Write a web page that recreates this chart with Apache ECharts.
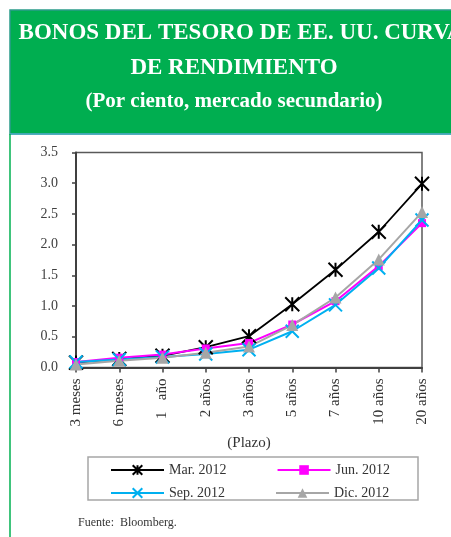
<!DOCTYPE html>
<html>
<head>
<meta charset="utf-8">
<script src="https://cdn.jsdelivr.net/npm/echarts@6/dist/echarts.min.js"></script>
<style>
  html, body { margin: 0; padding: 0; background: #fff; }
  #chart { width: 451px; height: 537px; }
</style>
</head>
<body>
<div id="chart"></div>
<script>
// plazos (eje x)
const plazos = ['3 meses', '6 meses', '1   año', '2 años', '3 años', '5 años', '7 años', '10 años', '20 años']
// rendimientos por fecha
const mar2012 = [0.08, 0.14, 0.19, 0.33, 0.51, 1.03, 1.59, 2.21, 2.99]
const jun2012 = [0.09, 0.16, 0.21, 0.31, 0.40, 0.70, 1.08, 1.65, 2.35]
const sep2012 = [0.09, 0.13, 0.17, 0.22, 0.29, 0.59, 1.02, 1.62, 2.40]
const dic2012 = [0.05, 0.11, 0.16, 0.24, 0.34, 0.69, 1.14, 1.76, 2.53]
const yTicks = ['0.0', '0.5', '1.0', '1.5', '2.0', '2.5', '3.0', '3.5']

const serif = '"Liberation Serif", "DejaVu Serif", serif'
const textColor = '#333'

const chart = echarts.init(document.getElementById('chart'))

const legendText = { fontFamily: serif, fontSize: 14, color: textColor }

const option = {
  animation: false,
  textStyle: { fontFamily: serif },
  graphic: [
    // cabecera verde
    { type: 'rect', shape: { x: 10, y: 10, width: 450, height: 124 },
      style: { fill: '#00AE50', stroke: '#2B9C8A', lineWidth: 1.5 } },
    { type: 'line', shape: { x1: 10, y1: 134, x2: 451, y2: 134 },
      style: { stroke: '#4BACC6', lineWidth: 1.5 } },
    { type: 'line', shape: { x1: 10, y1: 134, x2: 10, y2: 537 },
      style: { stroke: '#00B050', lineWidth: 1.5 } },
    { type: 'text', x: 241, y: 33,
      style: { text: 'BONOS DEL TESORO DE EE. UU. CURVA', fill: '#fff', font: 'bold 23px ' + serif,
               align: 'center', verticalAlign: 'middle' } },
    { type: 'text', x: 234, y: 68,
      style: { text: 'DE RENDIMIENTO', fill: '#fff', font: 'bold 23px ' + serif,
               align: 'center', verticalAlign: 'middle' } },
    { type: 'text', x: 234, y: 102,
      style: { text: '(Por ciento, mercado secundario)', fill: '#fff', font: 'bold 21px ' + serif,
               align: 'center', verticalAlign: 'middle' } },
    // marco de la leyenda
    { type: 'rect', shape: { x: 88, y: 457, width: 330, height: 43 },
      style: { fill: 'none', stroke: '#A6A6A6', lineWidth: 1.5 } },
    // fuente
    { type: 'text', x: 78, y: 523,
      style: { text: 'Fuente:  Bloomberg.', fill: textColor, font: '12px ' + serif,
               verticalAlign: 'middle' } }
  ],
  legend: [
    { data: ['Mar. 2012', 'Jun. 2012'], left: 105, top: 458, itemWidth: 53, itemHeight: 12,
      itemGap: 50, textStyle: legendText },
    { data: ['Sep. 2012', 'Dic. 2012'], left: 105, top: 481, itemWidth: 53, itemHeight: 12,
      itemGap: 50, textStyle: legendText }
  ],
  grid: {
    left: 76, right: 29, top: 152.5, bottom: 169.5,
    show: true, borderColor: '#595959', borderWidth: 1.5, backgroundColor: 'transparent'
  },
  xAxis: {
    type: 'category',
    data: plazos,
    boundaryGap: false,
    name: '(Plazo)',
    nameLocation: 'middle',
    nameGap: 68,
    nameTextStyle: { fontFamily: serif, fontSize: 15, color: textColor },
    axisLine: { lineStyle: { color: '#404040', width: 2 } },
    axisTick: { alignWithLabel: true, length: 5, lineStyle: { color: '#404040', width: 1.5 } },
    axisLabel: { rotate: 90, margin: 11, interval: 0, fontFamily: serif, fontSize: 15, color: textColor },
    splitLine: { show: false }
  },
  yAxis: {
    type: 'value',
    min: 0,
    max: 3.5,
    interval: 0.5,
    axisLine: { show: true, lineStyle: { color: '#404040', width: 2 } },
    axisTick: { show: true, length: 4, lineStyle: { color: '#404040', width: 1.5 } },
    axisLabel: {
      margin: 18, fontFamily: serif, fontSize: 14, color: '#404040', padding: [0, 0, 8, 0],
      formatter: (v) => yTicks[Math.round(v / 0.5)]
    },
    splitLine: { show: false }
  },
  series: [
    { name: 'Mar. 2012', type: 'line', data: mar2012,
      symbol: 'path://M0,0L10,10M10,0L0,10M5,0L5,10', symbolSize: 14,
      lineStyle: { color: '#000', width: 1.8 },
      itemStyle: { color: '#000', borderColor: '#000', borderWidth: 2 } },
    { name: 'Jun. 2012', type: 'line', data: jun2012,
      symbol: 'rect', symbolSize: 8,
      lineStyle: { color: '#FF00FF', width: 2 },
      itemStyle: { color: '#FF00FF' } },
    { name: 'Sep. 2012', type: 'line', data: sep2012,
      symbol: 'path://M0,0L10,10M10,0L0,10', symbolSize: 13,
      lineStyle: { color: '#00B0F0', width: 2 },
      itemStyle: { color: '#00B0F0', borderColor: '#00B0F0', borderWidth: 2 } },
    { name: 'Dic. 2012', type: 'line', data: dic2012,
      symbol: 'triangle', symbolSize: 12,
      lineStyle: { color: '#A6A6A6', width: 2 },
      itemStyle: { color: '#A6A6A6' } }
  ]
}

chart.setOption(option)
</script>
</body>
</html>
